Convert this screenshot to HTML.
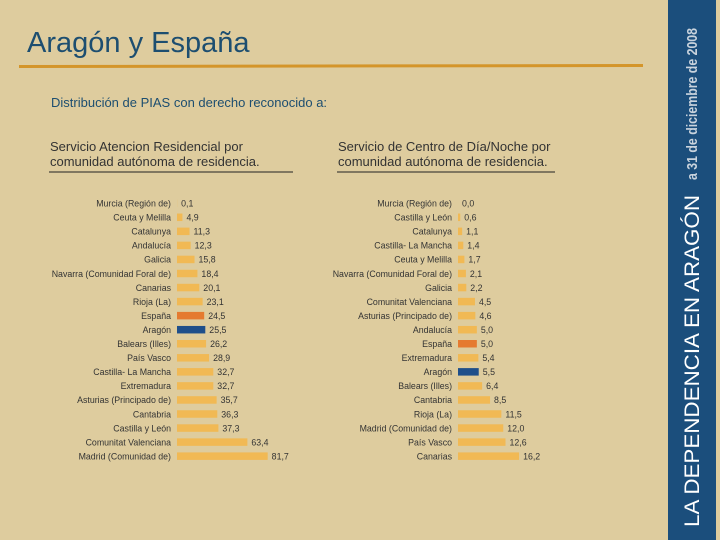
<!DOCTYPE html>
<html><head><meta charset="utf-8"><style>
body{margin:0;width:720px;height:540px;background:#decc9e;overflow:hidden;font-family:"Liberation Sans",sans-serif}
svg{display:block}
</style></head><body>
<svg id="s" width="720" height="540">
<rect x="0" y="0" width="720" height="540" fill="#decc9e"/>
<rect x="668" y="0" width="48" height="540" fill="#1b4e7c"/>
<text transform="translate(699,527) rotate(-90)" font-size="21" fill="#fff" font-family="Liberation Sans" textLength="332" lengthAdjust="spacingAndGlyphs">LA DEPENDENCIA EN ARAGÓN</text>
<text transform="translate(697,180) rotate(-90)" font-size="15" fill="#c9d3dd" font-family="Liberation Sans Narrow, Liberation Sans" font-weight="bold" textLength="152" lengthAdjust="spacingAndGlyphs">a 31 de diciembre de 2008</text>
<text x="27" y="52" font-size="29" fill="#1d4e70">Aragón y España</text>
<line x1="19" y1="66.5" x2="643" y2="65.5" stroke="#d4952a" stroke-width="3"/>
<text x="51" y="107" font-size="13" fill="#1d4e70">Distribución de PIAS con derecho reconocido a:</text>
<text x="50" y="151" font-size="13" fill="#333">Servicio Atencion Residencial por</text>
<text x="50" y="166" font-size="13" fill="#333">comunidad autónoma de residencia.</text>
<line x1="49" y1="172" x2="293" y2="172" stroke="#222" stroke-width="1"/>
<text x="338" y="151" font-size="13" fill="#333">Servicio de Centro de Día/Noche por</text>
<text x="338" y="166" font-size="13" fill="#333">comunidad autónoma de residencia.</text>
<line x1="337" y1="172" x2="555" y2="172" stroke="#222" stroke-width="1"/>
<g id="g1"></g>
<g id="g2"></g>
</svg>
<script>
const leftCats=["Murcia (Región de)","Ceuta y Melilla","Catalunya","Andalucía","Galicia","Navarra (Comunidad Foral de)","Canarias","Rioja (La)","España","Aragón","Balears (Illes)","País Vasco","Castilla- La Mancha","Extremadura","Asturias (Principado de)","Cantabria","Castilla y León","Comunitat Valenciana","Madrid (Comunidad de)"];
const leftVals=[0.1,4.9,11.3,12.3,15.8,18.4,20.1,23.1,24.5,25.5,26.2,28.9,32.7,32.7,35.7,36.3,37.3,63.4,81.7];
const rightCats=["Murcia (Región de)","Castilla y León","Catalunya","Castilla- La Mancha","Ceuta y Melilla","Navarra (Comunidad Foral de)","Galicia","Comunitat Valenciana","Asturias (Principado de)","Andalucía","España","Extremadura","Aragón","Balears (Illes)","Cantabria","Rioja (La)","Madrid (Comunidad de)","País Vasco","Canarias"];
const rightVals=[0.0,0.6,1.1,1.4,1.7,2.1,2.2,4.5,4.6,5.0,5.0,5.4,5.5,6.4,8.5,11.5,12.0,12.6,16.2];
const NS="http://www.w3.org/2000/svg";
function draw(gid,cats,vals,x0,scale){
  const g=document.getElementById(gid);
  const y=i=>203+i*14.05;
  cats.forEach((c,i)=>{
    const t=document.createElementNS(NS,"text");
    t.setAttribute("x",x0-6);t.setAttribute("y",y(i)+3.5);
    t.setAttribute("text-anchor","end");t.setAttribute("font-size","8.8");t.setAttribute("fill","#333");
    t.textContent=c;
    
    
    g.appendChild(t);
    const w=vals[i]*scale;
    const r=document.createElementNS(NS,"rect");
    r.setAttribute("x",x0);r.setAttribute("y",y(i)-3.5);r.setAttribute("width",Math.max(w,0));r.setAttribute("height",7.5);
    r.setAttribute("fill",c==="España"?"#e57a30":c==="Aragón"?"#1f4f8a":"#f1b954");
    
    
    g.appendChild(r);
    const v=document.createElementNS(NS,"text");
    v.setAttribute("x",x0+w+4);v.setAttribute("y",y(i)+3.5);
    v.setAttribute("font-size","8.8");v.setAttribute("fill","#333");
    v.textContent=vals[i].toFixed(1).replace(".",",");
    
    
    g.appendChild(v);
  });
}
draw("g1",leftCats,leftVals,177,1.11);
draw("g2",rightCats,rightVals,458,3.77);
</script>
</body></html>
